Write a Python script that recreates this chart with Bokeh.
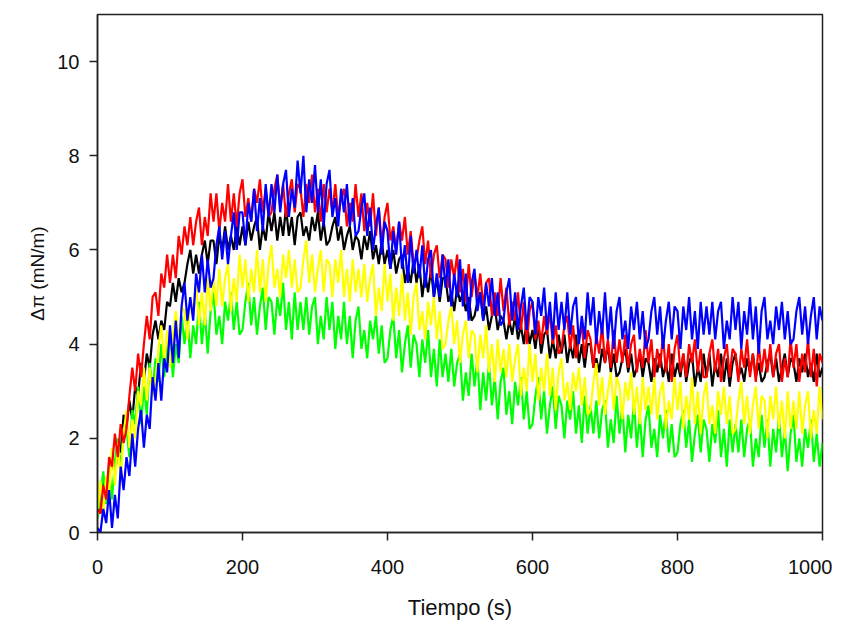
from bokeh.plotting import figure
from bokeh.models import Range1d, FixedTicker
from bokeh.embed import file_html
from bokeh.resources import INLINE

# sampling times (s), one reading every 4 s
tiempo = list(range(0, 1001, 4))

negro = [
    0.6,0.4,1.1,0.8,1.3,1.6,1.2,1.8,1.7,2.5,
    2.2,2.8,2.4,3.1,2.9,3.6,3.2,3.8,3.5,4.2,
    4.5,4.1,4.5,4.3,4.9,4.8,5.3,4.9,5.4,5.1,
    5.3,5.7,6.0,5.5,5.9,5.5,5.9,6.2,5.7,6.2,
    6.2,5.7,6.3,6.0,6.5,6.0,6.3,6.0,6.5,6.1,
    6.5,6.1,6.6,6.2,6.5,6.7,6.0,6.5,6.2,6.8,
    6.4,6.8,6.2,6.7,6.3,6.9,6.3,6.7,6.1,6.7,
    6.8,6.3,6.5,6.2,6.7,6.4,6.8,6.2,6.6,6.1,
    6.2,6.5,6.7,6.2,6.5,6.0,6.3,6.5,6.0,6.3,
    6.2,5.8,6.3,6.0,6.4,5.8,6.1,5.7,6.2,5.7,
    6.0,5.6,6.0,5.5,5.8,5.9,5.3,5.6,5.3,5.8,
    5.3,5.7,5.0,5.5,5.1,5.6,5.0,5.4,4.9,5.4,
    5.4,4.9,5.1,4.7,5.2,4.9,5.1,4.7,5.0,4.5,
    4.6,4.9,5.1,4.5,4.8,4.3,4.6,4.8,4.3,4.6,
    4.5,4.1,4.5,4.2,4.6,4.1,4.4,4.0,4.5,4.0,
    4.3,3.9,4.4,3.8,4.2,4.3,3.7,4.1,3.7,4.2,
    3.8,4.2,3.6,4.0,3.7,4.2,3.6,4.0,3.5,4.0,
    4.0,3.5,3.7,3.4,3.9,3.6,4.0,3.4,3.8,3.3,
    3.4,3.7,3.9,3.4,3.8,3.3,3.5,3.8,3.3,3.7,
    3.6,3.2,3.7,3.4,3.8,3.3,3.6,3.2,3.8,3.3,
    3.6,3.3,3.8,3.2,3.6,3.8,3.1,3.5,3.2,3.8,
    3.3,3.8,3.1,3.6,3.3,3.8,3.2,3.7,3.1,3.6,
    3.8,3.3,3.5,3.2,3.7,3.4,3.8,3.3,3.6,3.2,
    3.3,3.6,3.8,3.3,3.7,3.2,3.5,3.8,3.3,3.7,
    3.6,3.2,3.7,3.4,3.8,3.3,3.6,3.2,3.8,3.3,
    3.5]

verde = [
    0.3,0.8,1.3,0.6,1.4,0.7,1.5,2.0,1.3,2.2,
    2.2,1.6,2.6,2.3,3.1,2.3,3.1,2.5,3.6,3.0,
    3.7,3.2,4.0,3.3,3.9,4.2,3.3,4.0,3.6,4.6,
    4.0,4.6,3.7,4.4,4.0,4.9,4.0,4.7,3.8,4.7,
    5.1,4.2,4.6,4.0,4.9,4.5,5.1,4.3,4.9,4.2,
    4.3,4.9,5.3,4.4,5.0,4.2,4.8,5.2,4.3,5.0,
    4.9,4.2,5.0,4.6,5.3,4.3,4.9,4.1,5.1,4.3,
    4.9,4.3,5.0,4.2,4.8,5.0,4.0,4.6,4.1,5.0,
    4.3,4.9,3.9,4.6,4.1,4.9,4.0,4.6,3.7,4.5,
    4.8,3.9,4.3,3.7,4.5,4.1,4.6,3.8,4.4,3.6,
    3.7,4.3,4.6,3.7,4.3,3.4,4.0,4.4,3.5,4.2,
    4.0,3.3,4.1,3.6,4.3,3.3,3.9,3.1,4.1,3.3,
    3.8,3.2,3.9,3.1,3.6,3.8,2.8,3.4,2.9,3.8,
    3.1,3.7,2.6,3.4,2.8,3.6,2.7,3.3,2.4,3.2,
    3.5,2.5,3.0,2.3,3.2,2.7,3.3,2.4,3.0,2.2,
    2.3,2.9,3.3,2.4,3.0,2.1,2.7,3.1,2.2,2.9,
    2.7,2.0,2.8,2.4,3.0,2.1,2.7,1.9,2.9,2.1,
    2.7,2.1,2.8,2.0,2.6,2.8,1.8,2.4,1.9,2.9,
    2.1,2.7,1.7,2.5,2.0,2.8,1.8,2.5,1.6,2.4,
    2.7,1.8,2.2,1.6,2.5,2.0,2.6,1.7,2.3,1.6,
    1.7,2.3,2.6,1.8,2.4,1.5,2.1,2.5,1.7,2.4,
    2.2,1.5,2.3,1.9,2.6,1.6,2.2,1.4,2.4,1.7,
    2.3,1.7,2.4,1.6,2.2,2.4,1.4,2.0,1.6,2.5,
    1.8,2.4,1.4,2.2,1.7,2.5,1.6,2.2,1.3,2.1,
    2.5,1.5,2.0,1.4,2.2,1.8,2.4,1.5,2.1,1.4,
    1.9]

amarillo = [
    0.4,1.1,0.4,1.2,0.8,1.8,1.0,1.9,1.1,2.1,
    2.6,1.8,2.4,2.0,3.0,2.7,3.5,2.8,3.5,2.9,
    3.2,3.9,4.4,3.6,4.3,3.5,4.2,4.7,4.0,4.8,
    4.7,4.1,5.0,4.6,5.3,4.4,5.1,4.4,5.4,4.7,
    5.4,4.8,5.6,4.8,5.4,5.7,4.7,5.4,4.9,5.9,
    5.2,5.8,4.9,5.6,5.1,6.0,5.1,5.8,4.9,5.7,
    6.1,5.2,5.6,5.0,5.9,5.4,6.0,5.2,5.8,5.1,
    5.2,5.8,6.2,5.3,5.9,5.1,5.6,6.0,5.1,5.8,
    5.7,5.0,5.8,5.3,6.0,5.0,5.6,4.9,5.8,5.1,
    5.6,5.0,5.7,4.9,5.4,5.7,4.6,5.2,4.7,5.7,
    4.9,5.5,4.5,5.2,4.6,5.5,4.5,5.1,4.2,5.0,
    5.3,4.3,4.7,4.1,4.9,4.4,5.0,4.1,4.7,3.9,
    4.0,4.5,4.8,4.0,4.5,3.6,4.2,4.5,3.7,4.3,
    4.2,3.4,4.2,3.7,4.4,3.4,4.0,3.2,4.1,3.4,
    3.9,3.3,4.0,3.2,3.7,4.0,2.9,3.5,3.0,4.0,
    3.2,3.8,2.8,3.5,3.0,3.8,2.9,3.5,2.6,3.4,
    3.7,2.8,3.2,2.6,3.4,3.0,3.5,2.7,3.3,2.5,
    2.6,3.2,3.6,2.7,3.3,2.5,3.0,3.4,2.6,3.3,
    3.1,2.4,3.2,2.8,3.4,2.5,3.1,2.3,3.3,2.6,
    3.1,2.5,3.3,2.4,3.0,3.2,2.2,2.8,2.4,3.3,
    2.6,3.2,2.2,2.9,2.4,3.3,2.3,3.0,2.1,2.9,
    3.2,2.3,2.7,2.1,3.0,2.5,3.1,2.3,2.9,2.1,
    2.2,2.8,3.2,2.3,2.9,2.1,2.7,3.1,2.2,2.9,
    2.8,2.0,2.9,2.4,3.1,2.2,2.8,2.0,3.0,2.2,
    2.8,2.2,3.0,2.1,2.7,3.0,2.0,2.6,2.1,3.1,
    2.4]

rojo = [
    0.5,0.4,1.0,0.7,1.6,1.4,2.1,1.6,2.3,1.9,
    2.2,2.9,3.5,3.0,3.8,3.3,4.0,4.6,4.1,5.0,
    5.1,4.6,5.5,5.2,5.9,5.3,5.9,5.4,6.3,5.9,
    6.5,6.1,6.7,6.1,6.6,6.9,6.1,6.7,6.3,7.2,
    6.6,7.2,6.4,7.0,6.6,7.4,6.6,7.2,6.5,7.2,
    7.5,6.7,7.1,6.6,7.3,7.0,7.5,6.8,7.3,6.7,
    6.8,7.3,7.6,6.9,7.4,6.7,7.2,7.5,6.8,7.4,
    7.3,6.7,7.4,7.0,7.6,6.8,7.3,6.6,7.4,6.8,
    7.3,6.8,7.4,6.7,7.1,7.3,6.5,7.0,6.6,7.4,
    6.7,7.2,6.4,7.0,6.5,7.2,6.3,6.9,6.1,6.7,
    7.0,6.2,6.5,6.0,6.6,6.2,6.7,5.9,6.4,5.7,
    5.8,6.2,6.5,5.7,6.2,5.4,5.9,6.1,5.4,5.9,
    5.8,5.2,5.8,5.4,5.9,5.1,5.6,4.9,5.7,5.0,
    5.5,5.0,5.5,4.8,5.3,5.4,4.6,5.1,4.6,5.4,
    4.7,5.2,4.4,4.9,4.5,5.1,4.3,4.9,4.0,4.7,
    4.9,4.1,4.5,4.0,4.6,4.2,4.7,4.0,4.4,3.8,
    3.9,4.4,4.6,3.9,4.4,3.7,4.1,4.4,3.7,4.3,
    4.1,3.5,4.2,3.8,4.4,3.6,4.1,3.5,4.3,3.6,
    4.1,3.6,4.2,3.5,4.0,4.2,3.4,3.9,3.5,4.3,
    3.6,4.1,3.3,3.9,3.5,4.2,3.4,4.0,3.2,3.9,
    4.2,3.4,3.8,3.3,4.0,3.6,4.1,3.4,3.9,3.3,
    3.3,3.8,4.1,3.4,3.9,3.2,3.7,4.0,3.3,3.9,
    3.8,3.2,3.9,3.5,4.1,3.3,3.8,3.2,4.0,3.4,
    3.9,3.4,4.0,3.3,3.8,4.0,3.2,3.7,3.3,4.1,
    3.5,4.0,3.2,3.8,3.4,4.1,3.3,3.9,3.1,3.8,
    3.6]

azul = [
    0.1,0.0,0.5,0.2,0.9,0.1,0.8,0.3,1.4,0.9,
    1.6,1.2,2.1,1.4,2.2,2.6,1.8,2.5,2.2,3.3,
    2.8,3.6,2.8,3.7,3.4,4.4,3.6,4.5,3.7,4.8,
    5.3,4.5,5.0,4.5,5.5,5.1,5.9,5.1,5.8,5.2,
    5.4,6.1,6.5,5.8,6.4,5.7,6.3,6.8,6.0,6.8,
    6.8,6.1,7.0,6.6,7.3,6.4,7.1,6.4,7.4,6.7,
    7.4,6.8,7.6,6.8,7.4,7.7,6.7,7.3,6.9,7.9,
    7.2,8.0,6.8,7.5,7.0,7.8,6.8,7.5,6.5,7.4,
    7.7,6.7,7.1,6.5,7.3,6.8,7.4,6.5,7.1,6.3,
    6.4,6.9,7.2,6.3,6.9,6.0,6.5,6.9,5.9,6.6,
    6.4,5.6,6.4,5.9,6.6,5.6,6.1,5.3,6.3,5.5,
    6.0,5.4,6.1,5.2,5.8,6.0,5.0,5.5,5.0,5.9,
    5.2,5.8,4.8,5.5,5.0,5.8,4.8,5.5,4.5,5.3,
    5.6,4.7,5.1,4.5,5.3,4.8,5.4,4.6,5.1,4.4,
    4.5,5.1,5.4,4.5,5.1,4.3,4.8,5.2,4.3,5.0,
    4.9,4.2,5.0,4.6,5.2,4.3,4.9,4.1,5.1,4.3,
    4.9,4.3,5.1,4.2,4.8,5.0,4.0,4.6,4.1,5.1,
    4.4,5.0,4.0,4.7,4.2,5.1,4.1,4.8,3.9,4.7,
    5.0,4.1,4.5,3.9,4.8,4.3,4.9,4.1,4.7,3.9,
    4.1,4.7,5.0,4.2,4.8,3.9,4.5,4.9,4.1,4.8,
    4.7,3.9,4.8,4.3,5.0,4.1,4.7,3.9,4.9,4.2,
    4.8,4.2,4.9,4.1,4.7,4.9,3.9,4.5,4.1,5.0,
    4.3,4.9,3.9,4.7,4.2,5.0,4.1,4.8,3.8,4.7,
    5.0,4.1,4.5,4.0,4.8,4.3,4.9,4.1,4.7,4.0,
    4.1,4.7,5.0,4.2,4.8,4.0,4.6,5.0,4.1,4.8,
    4.5]

x_ticks = [0, 200, 400, 600, 800, 1000]
y_ticks = [0, 2, 4, 6, 8, 10]

FONT = "Liberation Sans"

p = figure(width=832, height=622, output_backend="svg", toolbar_location=None,
           x_range=Range1d(0, 1000), y_range=Range1d(0, 11),
           min_border_left=97, min_border_right=10, min_border_top=14, min_border_bottom=76)

series = [(negro, "#000000"), (verde, "#00ff00"), (amarillo, "#ffff00"),
          (rojo, "#ff0000"), (azul, "#0000ff")]
for ys, c in series:
    p.line(tiempo, ys, line_color=c, line_width=2.2)

p.xgrid.visible = False
p.ygrid.visible = False
p.outline_line_color = "#222222"
p.outline_line_width = 1.5

for ax in (p.xaxis, p.yaxis):
    ax.major_tick_in = 0
    ax.major_tick_out = 8
    ax.minor_tick_line_color = None
    ax.axis_line_color = "#222222"
    ax.axis_line_width = 1.5
    ax.major_tick_line_color = "#222222"
    ax.major_tick_line_width = 1.5
    ax.major_label_text_font = FONT
    ax.major_label_text_font_size = "20px"
    ax.major_label_text_color = "#111111"
    ax.axis_label_text_font = FONT
    ax.axis_label_text_font_style = "normal"
    ax.axis_label_text_color = "#111111"

p.xaxis.axis_label_text_font_size = "22px"
p.yaxis.axis_label_text_font_size = "19px"
p.xaxis.ticker = FixedTicker(ticks=x_ticks)
p.yaxis.ticker = FixedTicker(ticks=y_ticks)
p.xaxis.axis_label = "Tiempo (s)"
p.yaxis.axis_label = "Δπ (mN/m)"
p.xaxis.major_label_standoff = 19
p.yaxis.major_label_standoff = 10
p.xaxis.axis_label_standoff = 18
p.yaxis.axis_label_standoff = 6

open("out.html", "w").write(file_html(p, INLINE))
